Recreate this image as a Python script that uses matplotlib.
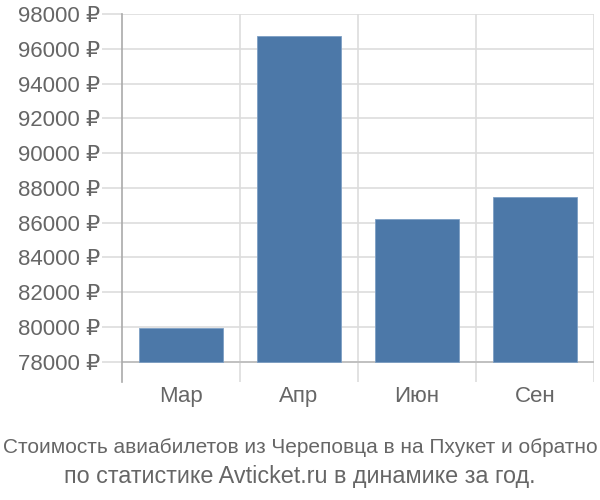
import matplotlib
matplotlib.use("Agg")
import matplotlib.pyplot as plt
import numpy as np

plt.rcParams['font.family'] = ['Liberation Sans', 'DejaVu Sans']

categories = ["Мар", "Апр", "Июн", "Сен"]
values = [79940, 96720, 86210, 87460]
yticks = list(range(78000, 98001, 2000))
ytick_labels = [f"{v} ₽" for v in yticks]
title_lines = ["Стоимость авиабилетов из Череповца в на Пхукет и обратно",
               "по статистике Avticket.ru в динамике за год."]

base = 78000
fig = plt.figure(figsize=(6, 5), dpi=100)
ax = fig.add_axes([122/600, 1-382/500, (594-122)/600, (382-14)/500])

ymin = base - 2000 * 20.3 / 34.77
ax.set_ylim(ymin, 98000)
ax.set_xlim(-0.5, len(categories) - 0.5)

x = np.arange(len(categories))
ax.bar(x, np.array(values) - base, bottom=base, width=0.72, color='#4c78a8',
       edgecolor='#7d9fc4', linewidth=0.6, zorder=3)

for yv in yticks:
    ax.axhline(yv, color='#dddddd', linewidth=1.2, zorder=1)
ax.axhline(base, color='#bbbbbb', linewidth=1.2, zorder=2)
for xv in np.arange(0.5, len(categories) - 0.5, 1):
    ax.axvline(xv, color='#dddddd', linewidth=1.2, zorder=1)
ax.axvline(len(categories) - 0.5, color='#dddddd', linewidth=1.2, zorder=1)

for s in ['top', 'right', 'bottom']:
    ax.spines[s].set_visible(False)
ax.spines['left'].set_color('#aaaaaa')
ax.spines['left'].set_linewidth(1.2)

ax.set_yticks(yticks)
ax.set_yticklabels(ytick_labels)
ax.tick_params(axis='y', length=14.5, color='#dddddd', width=1.2, pad=1,
               labelsize=16, labelcolor='#666666')
ax.set_xticks(x)
ax.set_xticklabels(categories)
ax.tick_params(axis='x', length=0, pad=3, labelsize=16, labelcolor='#666666')

fig.text(0.5, 1 - 453/500, title_lines[0], ha='center', va='baseline',
         fontsize=15.0, color='#666666')
fig.text(0.5, 1 - 483/500, title_lines[1], ha='center', va='baseline',
         fontsize=16.8, color='#666666')

fig.savefig("out.png", dpi=100)
